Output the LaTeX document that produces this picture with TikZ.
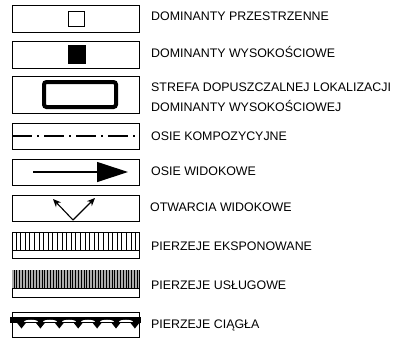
\documentclass[tikz,border=0pt]{standalone}
\usepackage{fontspec}
\setmainfont{Liberation Sans}
\usetikzlibrary{arrows.meta, positioning, calc}

\begin{document}
\begin{tikzpicture}[
    x=1pt, y=-1pt,
    legbox/.style={draw, line width=0.8pt, minimum width=127pt, inner sep=0pt, outer sep=0pt},
    sym/.style={draw, inner sep=0pt, outer sep=0pt},
    lbl/.style={anchor=base west, inner sep=0pt, align=left, font=\fontsize{12.4}{20}\selectfont},
    arr/.style={-{Stealth[length=8pt, width=7pt]}, line width=1.1pt}
]
    \useasboundingbox (0,0) rectangle (395,338);

    % legend boxes
    \node[legbox, minimum height=27pt] (b1) at (75.5,18.5) {};
    \node[legbox, minimum height=27pt] (b2) at (75.5,54.5) {};
    \node[legbox, minimum height=37pt] (b3) at (75.5,94.5) {};
    \node[legbox, minimum height=26pt] (b4) at (75.5,136) {};
    \node[legbox, minimum height=26pt] (b5) at (75.5,172) {};
    \node[legbox, minimum height=26pt] (b6) at (75.5,208) {};
    \node[legbox, minimum height=26pt] (b7) at (75.5,245) {};
    \node[legbox, minimum height=27pt] (b8) at (75.5,283.5) {};
    \node[legbox, minimum height=25pt] (b9) at (75.5,324.5) {};

    % symbols
    \node[sym, line width=1.2pt, minimum width=16pt, minimum height=15pt] (sq1) at (76.5,19) {};
    \node[sym, fill, minimum width=17pt, minimum height=18pt] (sq2) at (76.5,54) {};
    \draw[line width=4pt, rounded corners=2.5pt] (44,82) rectangle (116,107);

    \draw[line width=1.8pt, dash pattern=on 20pt off 5pt on 2pt off 5pt] (b4.west) -- (b4.east);

    \coordinate (a1) at (33,172);
    \coordinate (a2) at (128,172);
    \draw[line width=1.2pt, -{Triangle[length=31pt, width=20pt]}] (a1) -- (a2);

    \coordinate (vtip) at (73,220);
    \coordinate (vl) at (53,199);
    \coordinate (vr) at (95,198);
    \draw[arr] (vtip) -- (vl);
    \draw[arr] (vtip) -- (vr);

    % pierzeje eksponowane
    \foreach \x in {16,20.6,...,138}
        \draw[line width=0.8pt] (\x,232) -- (\x,250);
    \draw[line width=0.8pt] (12,250) -- (139,250);

    % pierzeje uslugowe
    \fill[gray!65] (12,270) rectangle (139,288);
    \foreach \x in {14,16.8,...,138}
        \draw[line width=0.9pt] (\x,270) -- (\x,288);
    \draw[line width=0.8pt] (12,288) -- (139,288);

    % pierzeje ciagle
    \fill (10,316.5) rectangle (141,323);
    \foreach \x in {31,49.9,...,126}
        \fill[white] (\x-7,322.2) .. controls (\x-7,318.5) and (\x+7,318.5) .. (\x+7,322.2) -- cycle;
    \foreach \x in {21.5,40.4,...,136}
        \fill (\x-4.5,322.8) -- (\x,328.5) -- (\x+4.5,322.8) -- cycle;

    % labels
    \node[lbl] (t1) at (151,20) {DOMINANTY PRZESTRZENNE};
    \node[lbl] (t2) at (151,57.5) {DOMINANTY WYSOKOŚCIOWE};
    \node[lbl] (t3) at (151,111.5) {STREFA DOPUSZCZALNEJ LOKALIZACJI\\DOMINANTY WYSOKOŚCIOWEJ};
    \node[lbl] (t4) at (151,140) {OSIE KOMPOZYCYJNE};
    \node[lbl] (t5) at (151,175) {OSIE WIDOKOWE};
    \node[lbl] (t6) at (150,211) {OTWARCIA WIDOKOWE};
    \node[lbl] (t7) at (151,250) {PIERZEJE EKSPONOWANE};
    \node[lbl] (t8) at (151,289) {PIERZEJE USŁUGOWE};
    \node[lbl] (t9) at (151,328) {PIERZEJE CIĄGŁA};
\end{tikzpicture}
\end{document}
